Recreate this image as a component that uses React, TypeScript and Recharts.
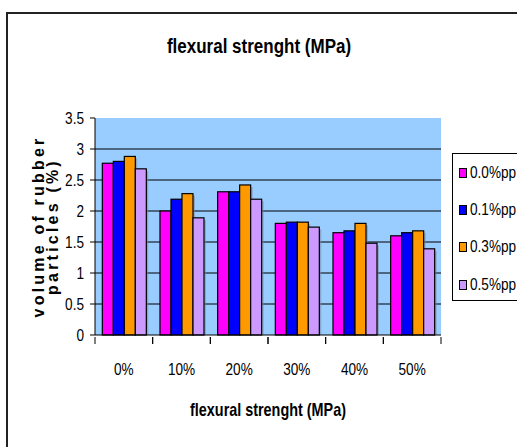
import { BarChart, Bar, XAxis, YAxis, CartesianGrid } from 'recharts';

const CATEGORIES = ['0%', '10%', '20%', '30%', '40%', '50%'];
const PP00 = [2.77, 2.0, 2.31, 1.8, 1.65, 1.6];
const PP01 = [2.8, 2.19, 2.31, 1.82, 1.68, 1.65];
const PP03 = [2.88, 2.28, 2.42, 1.82, 1.8, 1.68];
const PP05 = [2.68, 1.89, 2.19, 1.74, 1.48, 1.39];
const Y_TICKS = [0, 0.5, 1, 1.5, 2, 2.5, 3, 3.5];
const GRID_VALUES = [0.5, 1, 1.5, 2, 2.5, 3];

const SERIES = [
    { key: 'pp00', name: '0.0%pp', color: '#FF00FF' },
    { key: 'pp01', name: '0.1%pp', color: '#0000FF' },
    { key: 'pp03', name: '0.3%pp', color: '#FF9900' },
    { key: 'pp05', name: '0.5%pp', color: '#CC99FF' },
];

const data = CATEGORIES.map((c, i) => ({
    cat: c,
    pp00: PP00[i],
    pp01: PP01[i],
    pp03: PP03[i],
    pp05: PP05[i],
}));

const FONT = '"Liberation Sans", Arial, sans-serif';
// condensed look, the narrow face isn't around
const SQUEEZE = 0.8;

// bar with a soft grey drop shadow like the old office charts
const ShadowBar = (props: any) => {
    const { x, y, width, height, fill } = props;
    if (!height || height <= 0) return null;
    return (
        <g>
            <rect x={x + 2} y={y + 2} width={width} height={height - 2} fill="#7a8aa0" opacity={0.55} />
            <rect x={x} y={y} width={width} height={height} fill={fill} stroke="#000" strokeWidth={1.2} />
        </g>
    );
};

// category label plus tick marks on the band edges (between categories)
const CatTick = (props: any) => {
    const { x, y, payload, width, visibleTicksCount } = props;
    const half = payload.offset ? payload.offset : width / visibleTicksCount / 2;
    return (
        <g>
            <line x1={x - half} x2={x - half} y1={y} y2={y + 7} stroke="#000" />
            <line x1={x + half} x2={x + half} y1={y} y2={y + 7} stroke="#000" />
            <text
                transform={`translate(${x}, ${y}) scale(${SQUEEZE}, 1)`}
                textAnchor="middle"
                fontFamily={FONT}
                fontSize={17}
                fill="#000"
                y={38}
            >
                {payload.value}
            </text>
        </g>
    );
};

const ValueTick = (props: any) => {
    const { x, y, payload } = props;
    return (
        <text
            transform={`translate(${x}, ${y}) scale(${SQUEEZE}, 1)`}
            textAnchor="end"
            fontFamily={FONT}
            fontSize={17}
            fill="#000"
            y={6}
        >
            {payload.value}
        </text>
    );
};

const YLabel = (props: any) => {
    const vb = props.viewBox || {};
    const cy = vb.y + vb.height / 2;
    return (
        <text
            transform={`translate(0, ${cy}) rotate(-90)`}
            textAnchor="middle"
            fontFamily={FONT}
            fontWeight="bold"
            fontSize={16}
            letterSpacing={3.2}
            fill="#000"
        >
            <tspan x={0} y={44}>volume of rubber</tspan>
            <tspan x={0} y={58}>particles (%)</tspan>
        </text>
    );
};

const XLabel = (props: any) => {
    const vb = props.viewBox || {};
    const cx = vb.x + vb.width / 2;
    return (
        <text
            transform={`translate(${cx}, ${vb.y + 81}) scale(${SQUEEZE}, 1)`}
            textAnchor="middle"
            fontFamily={FONT}
            fontWeight="bold"
            fontSize={18}
            fill="#000"
        >
            flexural strenght (MPa)
        </text>
    );
};

const LegendBox = () => (
    <div
        style={{
            position: 'absolute',
            left: 452,
            top: 153,
            width: 80,
            height: 148,
            border: '1px solid #000',
            background: '#fff',
            boxSizing: 'border-box',
            paddingLeft: 6,
            fontFamily: FONT,
            fontSize: 17,
        }}
    >
        {SERIES.map((s) => (
            <div key={s.key} style={{ display: 'flex', alignItems: 'center', height: 37.3 }}>
                <span
                    style={{
                        display: 'inline-block',
                        width: 6,
                        height: 8,
                        background: s.color,
                        border: '1px solid #000',
                        marginRight: 3,
                        flex: 'none',
                    }}
                />
                <span
                    style={{
                        display: 'inline-block',
                        transform: `scaleX(${SQUEEZE})`,
                        transformOrigin: 'left center',
                        whiteSpace: 'nowrap',
                    }}
                >
                    {s.name}
                </span>
            </div>
        ))}
    </div>
);

export default function App() {
    return (
        <div
            style={{
                position: 'fixed',
                left: 0,
                top: 0,
                width: 517,
                height: 447,
                overflow: 'hidden',
                background: '#fff',
            }}
        >
            <div
                style={{
                    position: 'absolute',
                    left: 6,
                    top: 12,
                    width: 700,
                    height: 700,
                    border: '2px solid #222',
                }}
            />
            <div
                style={{
                    position: 'absolute',
                    top: 35,
                    left: 0,
                    width: 518,
                    textAlign: 'center',
                    fontFamily: FONT,
                    fontWeight: 'bold',
                    fontSize: 20,
                    transform: 'scaleX(0.85)',
                    transformOrigin: '259px 0',
                }}
            >
                flexural strenght (MPa)
            </div>
            <div style={{ position: 'absolute', left: 0, top: 0 }}>
                <BarChart
                    width={517}
                    height={447}
                    data={data}
                    margin={{ top: 118, right: 76, left: 30, bottom: 12 }}
                    barGap={0}
                    barCategoryGap="12.7%"
                >
                    <CartesianGrid
                        vertical={false}
                        stroke="#000"
                        fill="#99CCFF"
                        fillOpacity={1}
                        horizontalValues={GRID_VALUES}
                    />
                    <XAxis
                        dataKey="cat"
                        height={100}
                        tickLine={false}
                        tickSize={0}
                        axisLine={{ stroke: '#000' }}
                        tick={CatTick}
                        label={{ content: XLabel }}
                    />
                    <YAxis
                        width={65}
                        domain={[0, 3.5]}
                        ticks={Y_TICKS}
                        interval={0}
                        tickSize={5}
                        tickMargin={6}
                        tickLine={{ stroke: '#000' }}
                        axisLine={{ stroke: '#000' }}
                        tick={ValueTick}
                        label={{ content: YLabel }}
                    />
                    {SERIES.map((s) => (
                        <Bar
                            key={s.key}
                            dataKey={s.key}
                            name={s.name}
                            fill={s.color}
                            shape={ShadowBar}
                            isAnimationActive={false}
                        />
                    ))}
                </BarChart>
            </div>
            <LegendBox />
        </div>
    );
}
